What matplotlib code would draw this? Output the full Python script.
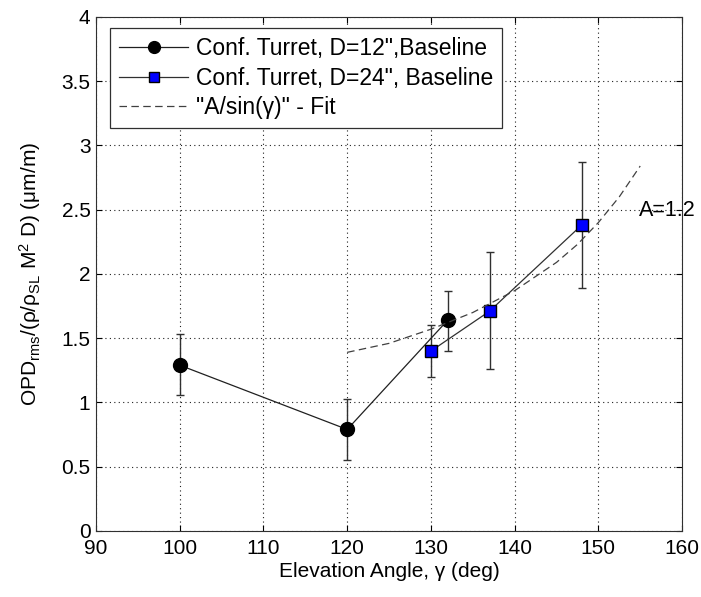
import matplotlib.pyplot as plt

plt.rcParams['font.family'] = ['Liberation Sans', 'DejaVu Sans']
plt.rcParams['mathtext.fontset'] = 'custom'
plt.rcParams['mathtext.rm'] = 'Liberation Sans'
plt.rcParams['mathtext.it'] = 'Liberation Sans'

# D=12" Baseline
angle_12 = [100, 120, 132]
opd_12 = [1.29, 0.79, 1.64]
err_lo_12 = [1.06, 0.55, 1.40]
err_hi_12 = [1.53, 1.03, 1.87]

# D=24" Baseline
angle_24 = [130, 137, 148]
opd_24 = [1.40, 1.71, 2.38]
err_lo_24 = [1.20, 1.26, 1.89]
err_hi_24 = [1.60, 2.17, 2.87]

# A/sin(gamma) fit
fit_angle = [120, 125, 130, 135, 140, 145, 147.5, 150, 152.5, 155]
fit_opd = [1.39, 1.46, 1.57, 1.70, 1.87, 2.09, 2.23, 2.40, 2.60, 2.84]

fig = plt.figure(figsize=(7.01, 5.97), dpi=100)
ax = fig.add_axes([0.137, 0.1106, 0.836, 0.861])

yerr_12 = [[o - l for o, l in zip(opd_12, err_lo_12)], [h - o for o, h in zip(opd_12, err_hi_12)]]
yerr_24 = [[o - l for o, l in zip(opd_24, err_lo_24)], [h - o for o, h in zip(opd_24, err_hi_24)]]

ax.errorbar(angle_12, opd_12, yerr=yerr_12, fmt='none', ecolor='#303030', elinewidth=1, capsize=3, capthick=1)
ax.errorbar(angle_24, opd_24, yerr=yerr_24, fmt='none', ecolor='#303030', elinewidth=1, capsize=3, capthick=1)
ax.plot(angle_12, opd_12, '-o', color='#202020', lw=0.9, markersize=10,
        markerfacecolor='black', markeredgecolor='black', label='Conf. Turret, D=12",Baseline')
ax.plot(angle_24, opd_24, '-s', color='#303030', lw=0.9, markersize=8,
        markerfacecolor='#0000ff', markeredgecolor='black', label='Conf. Turret, D=24", Baseline')
ax.plot(fit_angle, fit_opd, '--', color='#404040', lw=0.9, dashes=(6, 3.5),
        label='"A/sin(γ)" - Fit')

ax.text(154.9, 2.49, 'A=1.2', fontsize=15.5, va='center', ha='left')

ax.set_xlim(90, 160)
ax.set_ylim(0, 4)
ax.set_xticks(range(90, 161, 10))
ax.set_yticks([0, 0.5, 1, 1.5, 2, 2.5, 3, 3.5, 4])
ax.set_yticklabels(['0', '0.5', '1', '1.5', '2', '2.5', '3', '3.5', '4'])
ax.tick_params(direction='in', labelsize=15, length=4, top=True, right=True)
ax.tick_params(axis='x', pad=6)
ax.tick_params(axis='y', pad=4)
ax.grid(True, linestyle=(0, (1, 3)), color='#202020', lw=0.8)

ax.set_xlabel('Elevation Angle, γ (deg)', fontsize=15, labelpad=3)
ax.set_ylabel('OPD$_{\\mathrm{rms}}$/(ρ/ρ$_{\\mathrm{SL}}$ M$^2$ D) (μm/m)', fontsize=15, labelpad=13)

leg = ax.legend(loc='upper left', bbox_to_anchor=(14 / 586, 1 - 11 / 514), borderaxespad=0,
                fontsize=16.5, handlelength=3.0, handletextpad=0.35,
                fancybox=False, framealpha=1, edgecolor='#303030',
                borderpad=0.4, labelspacing=0.28, markerscale=0.85)
leg.get_frame().set_linewidth(0.9)

for s in ax.spines.values():
    s.set_linewidth(0.8)
    s.set_color('#303030')

fig.savefig('out.png', dpi=100)
